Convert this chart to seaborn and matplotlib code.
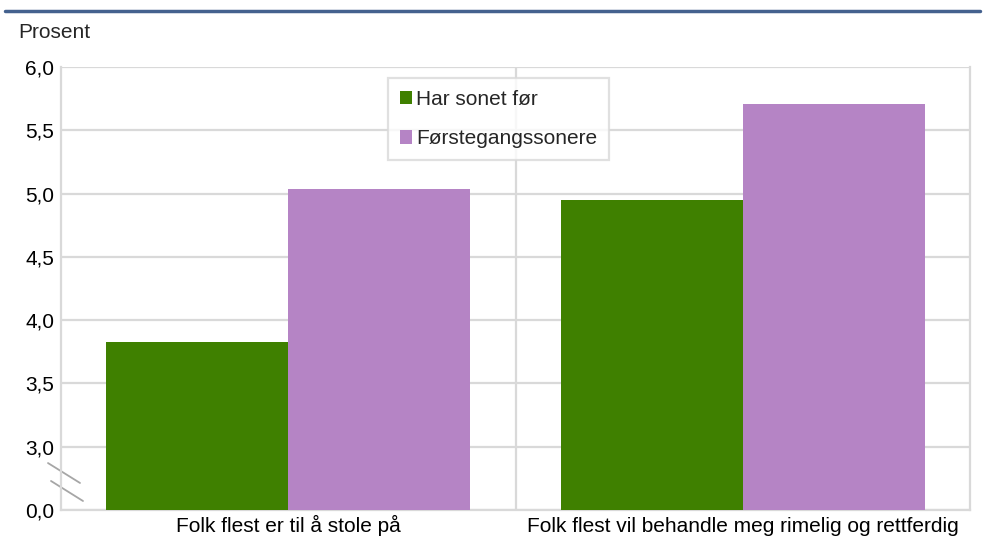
import pandas as pd
import numpy as np
import matplotlib.pyplot as plt
import seaborn as sns

categories = ['Folk flest er til å stole på', 'Folk flest vil behandle meg rimelig og rettferdig']
groups = ['Har sonet før', 'Førstegangssonere']
har_sonet = [3.83, 4.95]
forstegangs = [5.04, 5.71]
yticks = [2.5, 3.0, 3.5, 4.0, 4.5, 5.0, 5.5, 6.0]
ytick_labels = ['0,0', '3,0', '3,5', '4,0', '4,5', '5,0', '5,5', '6,0']

df = pd.DataFrame({
    'Kategori': categories * 2,
    'Gruppe': [groups[0]] * 2 + [groups[1]] * 2,
    'Verdi': har_sonet + forstegangs,
})

sns.set_style('white')
plt.rcParams['font.family'] = ['Liberation Sans', 'DejaVu Sans']

fig = plt.figure(figsize=(9.93, 5.4), dpi=100)
ax = fig.add_axes([61 / 993, 30 / 540, 909 / 993, 443 / 540])

grid_col = '#D9D9D9'
fs = 15
sns.barplot(data=df, x='Kategori', y='Verdi', hue='Gruppe', hue_order=groups,
            palette=['#3F8000', '#B584C5'], width=0.8, saturation=1, ax=ax, zorder=3,
            linewidth=0)

ax.set_ylim(2.5, 6.0)
ax.set_yticks(yticks)
ax.set_yticklabels(ytick_labels)
ax.set_xlim(-0.5, 1.5)
for y in yticks:
    ax.axhline(y, color=grid_col, lw=1.6, zorder=1)
ax.axvline(0.5, color=grid_col, lw=1.6, zorder=1)
for s in ['left', 'right', 'bottom']:
    ax.spines[s].set_color(grid_col)
    ax.spines[s].set_linewidth(1.6)
ax.spines['top'].set_visible(False)
ax.tick_params(axis='both', length=0, labelsize=fs, colors='black')
ax.tick_params(axis='y', pad=5)
ax.tick_params(axis='x', pad=16)
for lab in ax.get_xticklabels():
    lab.set_va('baseline')
ax.set_xlabel('')
ax.set_ylabel('')

# axis break marks
for (x0, y0, x1, y1) in [(-0.0143, 0.106, 0.0209, 0.061), (-0.011, 0.0655, 0.0242, 0.0203)]:
    ax.plot([x0, x1], [y0, y1], transform=ax.transAxes,
            color='#A6A6A6', lw=1.3, clip_on=False)

ax.legend(loc='upper left', bbox_to_anchor=(0.36, 0.975), frameon=True, fontsize=fs,
          handlelength=0.6, handleheight=0.6, handletextpad=0.2, labelspacing=1.0,
          borderpad=0.55, borderaxespad=0, fancybox=False, edgecolor=grid_col)
ax.get_legend().get_frame().set_linewidth(1.6)

fig.text(18 / 993, 1 - 32 / 540, 'Prosent', fontsize=fs, va='center', ha='left')
fig.add_artist(plt.Line2D([5 / 993, 980 / 993], [1 - 11 / 540, 1 - 11 / 540],
                          color='#44618E', lw=2.5))

fig.savefig('out.png', dpi=100)
